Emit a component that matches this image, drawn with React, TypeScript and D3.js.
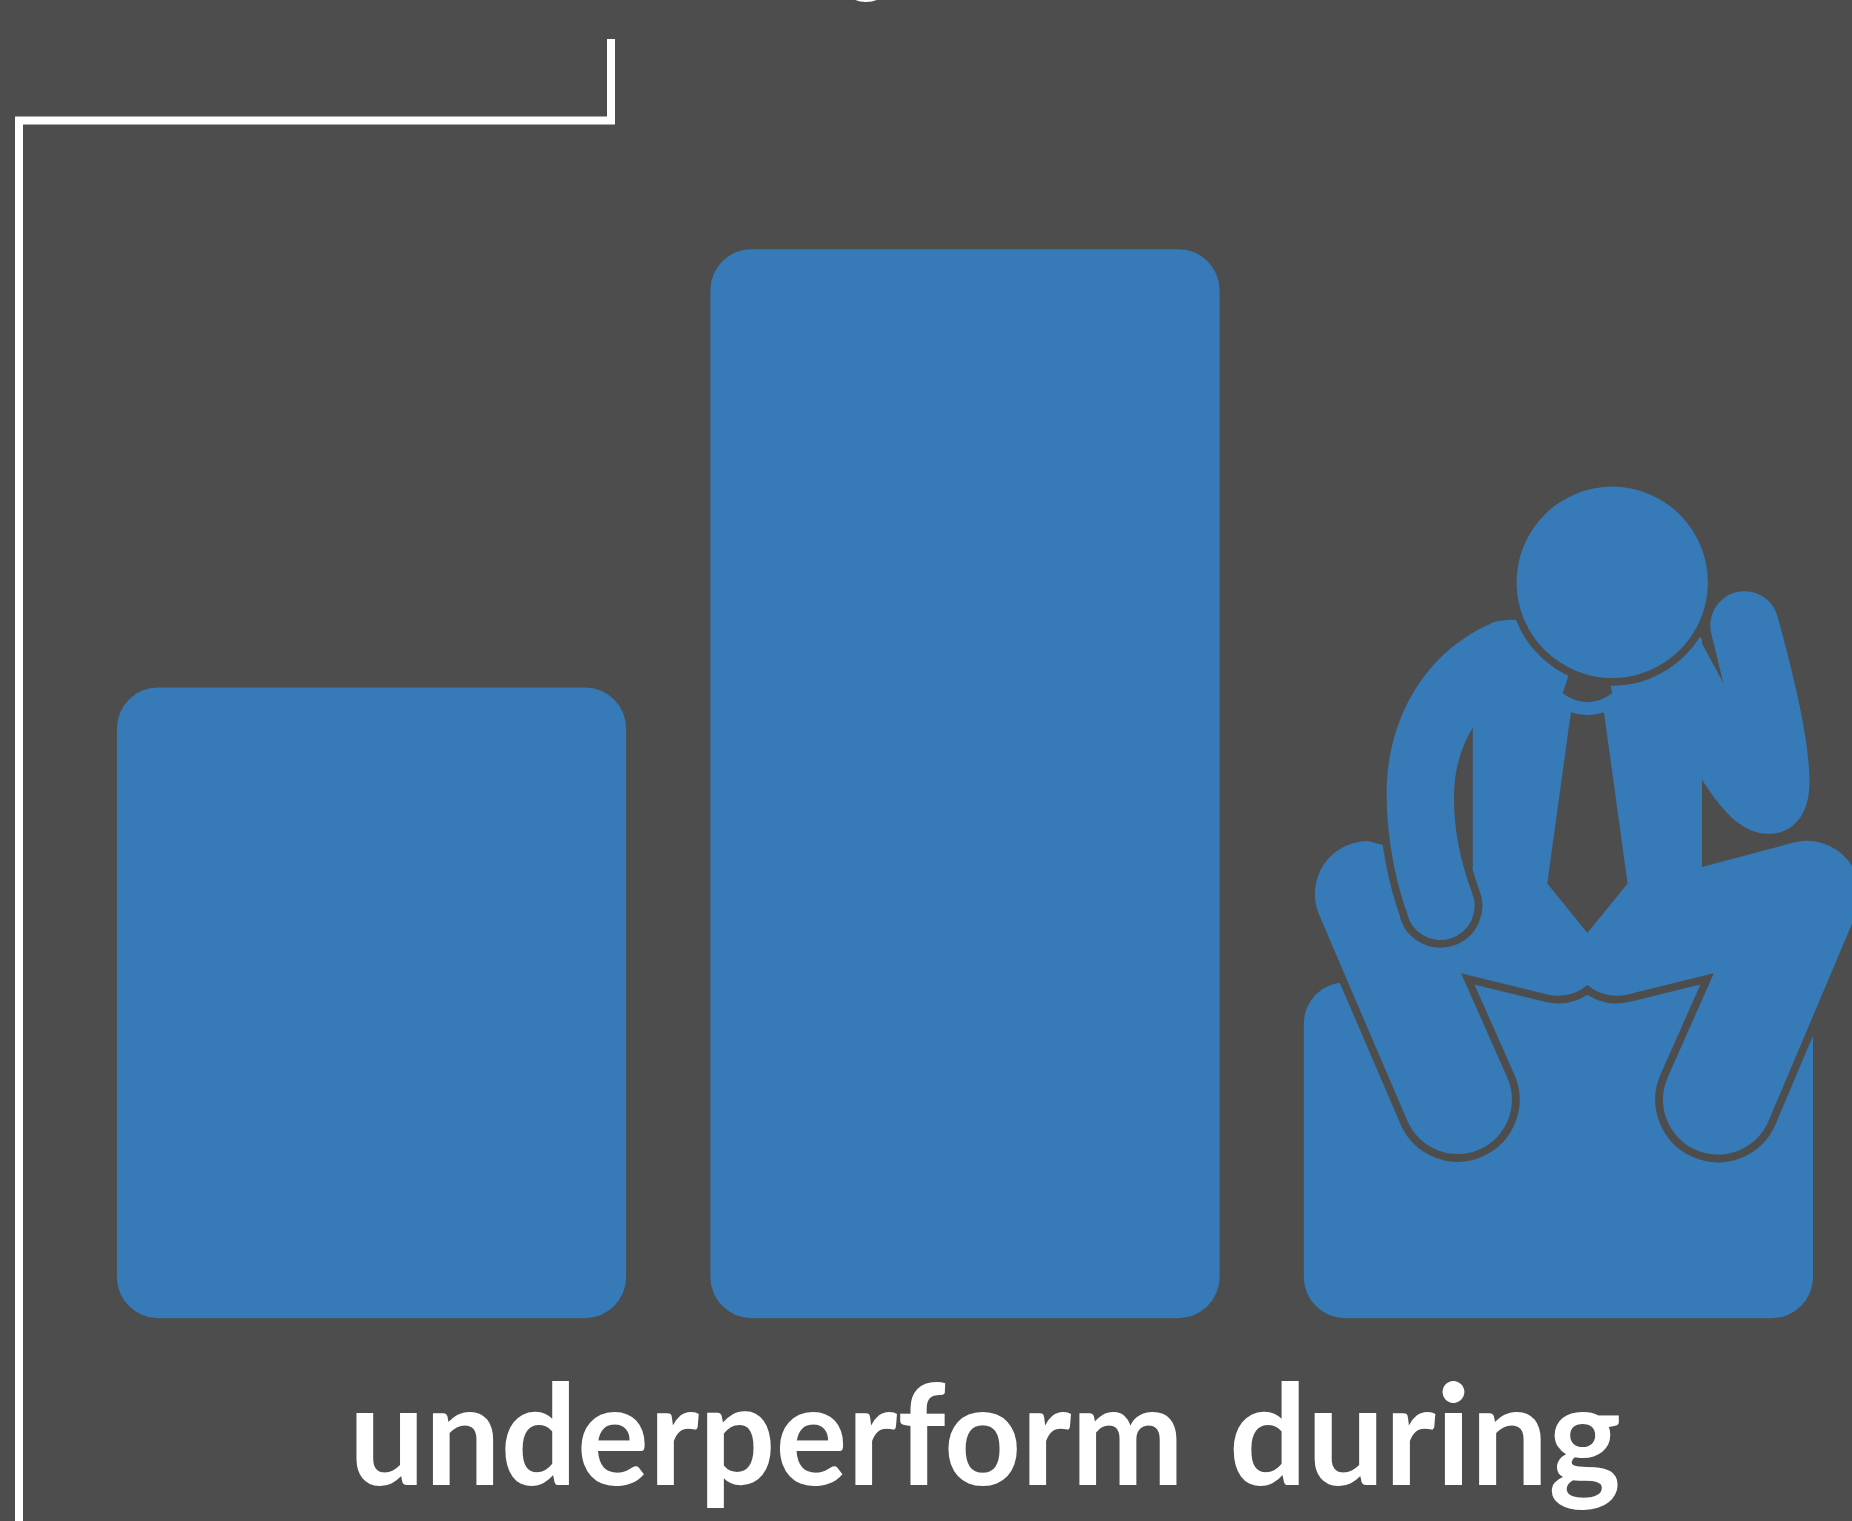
import React from "react";
import * as d3 from "d3";

const W = 1852;
const H = 1521;
const S = W / 1568; // figure artwork unit -> page pixel

const categories = ["first", "second", "third"];
const values = [59, 100, 31.4];
const captionWords = ["underperform", "during"];
const BG = "#4d4d4d";
const BLUE = "#377ab8";

const bracket: [number, number][] = [[19, 1530], [19, 120.5], [611, 120.5], [611, 39]];

// pictogram artwork, in its own units
const LOWER =
  "M1237,824 L1310,842 Q1330,846 1344,834 Q1358,846 1378,842 L1451,824 L1412,912 A46,46 0 1 0 1497,950 L1571,775 A45,45 0 0 0 1518,713.5 L1441,734 L1441,560 L1247,560 L1247,735 L1158,712 A45,45 0 0 0 1117,775 L1192,950 A46,46 0 1 0 1276,912 Z";
const TORSO =
  "M1247,616 L1247,800 L1441,800 L1441,541 L1400,500 L1300,500 L1283,525 Z";
const LEFT_ARM =
  "M1283,525 C1275,525 1268,525 1262,528 C1205,553 1174,610 1174,672 C1174,712 1183,750 1191,772 A29,29 0 1 0 1246,755 C1237,730 1231,705 1231,675 C1231,652 1237,632 1247,616 L1300,600 Z";
const HAND_OUTLINE =
  "M1174,672 C1174,712 1183,750 1191,772 A29,29 0 1 0 1246,755 C1243,746 1240,738 1238,728";
const RIGHT_ARM =
  "M1441,660 C1455,682 1473,706 1497,706 C1518,706 1532,690 1532,662 C1532,625 1518,570 1505,522 A28,28 0 0 0 1449,537 L1459,578 L1439,541 L1420,600 Z";
const TIE = "M1330,603 Q1344,608 1358,603 L1378,748 L1344,790 L1310,748 Z";
const COLLAR = "M1328,572 L1323,587 Q1344,602 1365,587 L1362,572 Z";

export default function App() {
  const x = d3.scaleBand<string>().domain(categories).range([99 * S, 1535 * S]).paddingInner(0.142);
  const y = d3.scaleLinear().domain([0, 100]).range([1116 * S, 211 * S]);
  const line = d3.line();
  return (
    <svg
      width={W}
      height={H}
      viewBox={`0 0 ${W} ${H}`}
      style={{ position: "fixed", left: 0, top: 0, display: "block", background: BG }}
    >
      <rect width={W} height={H} fill={BG} />
      <ellipse cx={866} cy={-8} rx={18} ry={10} fill="#fff" />
      <path d={line(bracket) ?? ""} fill="none" stroke="#fff" strokeWidth={8} strokeLinejoin="miter" />
      {categories.map((c, i) => (
        <rect
          key={c}
          x={x(c)}
          y={y(values[i])}
          width={x.bandwidth()}
          height={y(0) - y(values[i])}
          rx={41}
          ry={41}
          fill={BLUE}
        />
      ))}
      <g transform={`scale(${S})`}>
        <path d={LOWER} fill={BLUE} stroke={BG} strokeWidth={13} style={{ paintOrder: "stroke" }} strokeLinejoin="miter" strokeMiterlimit={8} />
        <path d={TORSO} fill={BLUE} />
        <path d={HAND_OUTLINE} fill="none" stroke={BG} strokeWidth={13} />
        <path d={LEFT_ARM} fill={BLUE} />
        <path d={RIGHT_ARM} fill={BLUE} />
        <path d={TIE} fill={BG} />
        <path d={COLLAR} fill={BG} />
        <circle cx={1365} cy={493} r={81} fill={BLUE} stroke={BG} strokeWidth={13} style={{ paintOrder: "stroke" }} />
      </g>
      <text
        y={1257 * S}
        fontFamily="Lato, sans-serif"
        fontWeight={700}
        fontSize={139}
        fill="#fff"
      >
        <tspan x={349} textLength={835} lengthAdjust="spacingAndGlyphs">{captionWords[0]}</tspan>{" "}
        <tspan x={1229} textLength={392} lengthAdjust="spacingAndGlyphs">{captionWords[1]}</tspan>
      </text>
    </svg>
  );
}
